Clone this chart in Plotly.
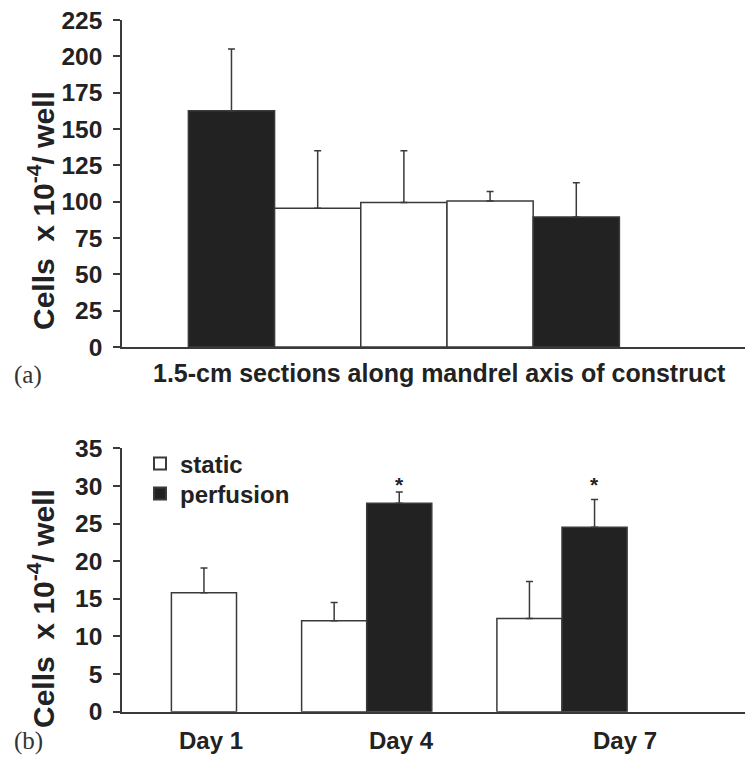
import plotly.graph_objects as go

# ---------------- data ----------------
# (a) cell counts in 1.5-cm sections along the mandrel axis
sections = [1, 2, 3, 4, 5]
section_values = [162.5, 95.5, 99.5, 100.5, 89.5]
section_errors = [42.5, 39.5, 35.5, 6.5, 23.5]
section_colors = ["#222222", "#ffffff", "#ffffff", "#ffffff", "#222222"]

# (b) static vs perfusion culture
days = ["Day 1", "Day 4", "Day 7"]
static_values = [15.8, 12.1, 12.4]
static_errors = [3.3, 2.4, 4.9]
perfusion_values = [None, 27.7, 24.5]
perfusion_errors = [None, 1.5, 3.7]
significant = [False, True, True]

y_ticks_a = [0, 25, 50, 75, 100, 125, 150, 175, 200, 225]
y_ticks_b = [0, 5, 10, 15, 20, 25, 30, 35]

# ---------------- layout helpers ----------------
# the page body adds an 8 px margin, so the figure is drawn 8 px in from the corner
OFF = 8
W, H = 753 - OFF, 758 - OFF
FONT = "Liberation Sans, Arial, sans-serif"
SERIF = "Liberation Serif, Times New Roman, serif"
INK = "#222222"
LINE = "#3a3a3a"


def px(x):
    return (x - OFF) / W


def py(y):
    return 1 - (y - OFF) / H


fig = go.Figure()

# panel (a)
fig.add_trace(go.Bar(
    x=list(range(len(sections))), y=section_values,
    width=1.0,
    marker=dict(color=section_colors, line=dict(color=LINE, width=1.5)),
    error_y=dict(type="data", array=section_errors, arrayminus=[0] * len(sections),
                 symmetric=False, color=LINE, thickness=1.5, width=3.5),
    xaxis="x", yaxis="y", showlegend=False,
))

# panel (b)
bw = 1 / 3
idx = list(range(len(days)))
static_offsets = [0 if p is None else -bw for p in perfusion_values]
fig.add_trace(go.Bar(
    name="static", x=idx, y=static_values,
    width=bw, offset=static_offsets,
    marker=dict(color="#ffffff", line=dict(color=LINE, width=1.5)),
    error_y=dict(type="data", array=static_errors, arrayminus=[0] * len(days),
                 symmetric=False, color=LINE, thickness=1.5, width=3.5),
    xaxis="x2", yaxis="y2", legend="legend",
))
fig.add_trace(go.Bar(
    name="perfusion", x=idx, y=perfusion_values,
    width=bw, offset=0,
    marker=dict(color=INK, line=dict(color=LINE, width=1.5)),
    error_y=dict(type="data", array=[e if e is not None else 0 for e in perfusion_errors],
                 arrayminus=[0] * len(days),
                 symmetric=False, color=LINE, thickness=1.5, width=3.5),
    xaxis="x2", yaxis="y2", legend="legend2",
))

annotations = []
# significance stars, drawn at a common level above the tallest significant bar
star_level = max(v + e for v, e, s in zip(perfusion_values, perfusion_errors, significant) if s)
for i, s in enumerate(significant):
    if s:
        annotations.append(dict(
            x=i + bw / 2, y=star_level, xref="x2", yref="y2", text="*",
            showarrow=False, yanchor="bottom", yshift=-6,
            font=dict(family=FONT, size=21, color=INK, weight=700),
        ))

# day labels (hand-placed under the groups, as in the original)
day_label_px = [210.5, 401.7, 625]
for lab, xp in zip(days, day_label_px):
    annotations.append(dict(
        x=px(xp), y=py(740), xref="paper", yref="paper", text=lab,
        showarrow=False, xanchor="center", yanchor="middle",
        font=dict(family=FONT, size=24, color=INK, weight=700),
    ))

# x title of (a)
annotations.append(dict(
    x=px(439), y=py(373), xref="paper", yref="paper",
    text="1.5-cm sections along mandrel axis of construct",
    showarrow=False, xanchor="center", yanchor="middle",
    font=dict(family=FONT, size=25, color=INK, weight=700),
))

# y titles
ytitle = "Cells  x 10<sup>-4</sup>/ well"
for yc in (211, 609):
    annotations.append(dict(
        x=px(41), y=py(yc), xref="paper", yref="paper", text=ytitle,
        textangle=-90, showarrow=False, xanchor="center", yanchor="middle",
        font=dict(family=FONT, size=30, color=INK, weight=700),
    ))

# panel letters
for lab, yc in (("(a)", 375), ("(b)", 741)):
    annotations.append(dict(
        x=px(28), y=py(yc), xref="paper", yref="paper", text=lab,
        showarrow=False, xanchor="center", yanchor="middle",
        font=dict(family=SERIF, size=25, color="#333333"),
    ))

yaxis_common = dict(
    showgrid=False, zeroline=False, showline=True, linecolor=LINE, linewidth=1.5,
    ticks="outside", ticklen=7, tickwidth=1.5, tickcolor=LINE, automargin=False,
    ticklabelstandoff=6, ticklabeloverflow="allow",
    tickfont=dict(family=FONT, size=24.5, color=INK, weight=700),
)
xaxis_common = dict(
    showgrid=False, zeroline=False, showline=True, linecolor=LINE, linewidth=1.5,
    showticklabels=False, ticks="", automargin=False,
)
legend_common = dict(
    xanchor="left", yanchor="middle", bgcolor="rgba(0,0,0,0)",
    itemsizing="constant", borderwidth=0,
    font=dict(family=FONT, size=24, color=INK, weight=700),
)

fig.update_layout(
    width=W, height=H,
    margin=dict(l=0, r=0, t=0, b=0, autoexpand=False),
    paper_bgcolor="white", plot_bgcolor="white",
    barmode="overlay",
    xaxis=dict(domain=[px(122), 1.0], range=[-1.270, 6.050], anchor="y", **xaxis_common),
    yaxis=dict(domain=[py(347), py(20)], range=[0, 225], tickvals=y_ticks_a,
               anchor="x", **yaxis_common),
    xaxis2=dict(domain=[px(122), 1.0], range=[-0.253, 2.978], anchor="y2", **xaxis_common),
    yaxis2=dict(domain=[py(711.7), py(448.3)], range=[0, 35], tickvals=y_ticks_b,
                anchor="x2", **yaxis_common),
    legend=dict(x=px(140), y=py(464), **legend_common),
    legend2=dict(x=px(140), y=py(494), **legend_common),
    annotations=annotations,
)

fig.write_html("out.html")
